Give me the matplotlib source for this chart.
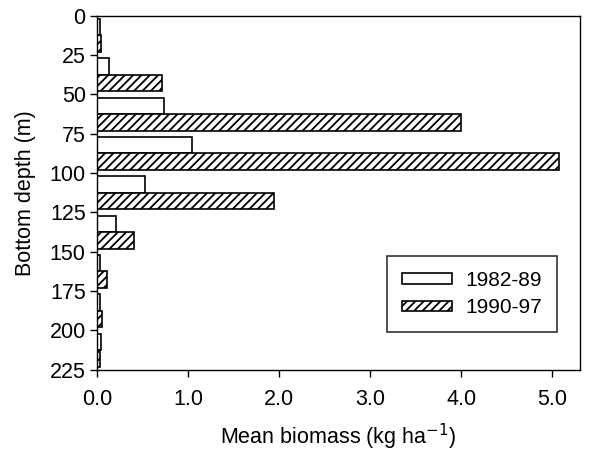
import matplotlib

matplotlib.use("Agg")

import matplotlib.pyplot as plt
import numpy as np

plt.rcParams["font.family"] = ["Liberation Sans", "DejaVu Sans"]
plt.rcParams["hatch.linewidth"] = 1.3

# depth bins (m), upper edge of each 25 m interval
DEPTH_BINS = [0, 25, 50, 75, 100, 125, 150, 175, 200]
BIOMASS_1982_89 = [0.03, 0.13, 0.735, 1.04, 0.53, 0.21, 0.03, 0.04, 0.05]
BIOMASS_1990_97 = [0.045, 0.72, 4.0, 5.07, 1.94, 0.41, 0.11, 0.06, 0.04]
SERIES_LABELS = ["1982-89", "1990-97"]
X_TICKS = [0.0, 1.0, 2.0, 3.0, 4.0, 5.0]
Y_TICKS = [0, 25, 50, 75, 100, 125, 150, 175, 200, 225]

fig = plt.figure(figsize=(5.94, 4.51), dpi=100)
ax = fig.add_axes([0.163, 0.180, 0.813, 0.785])

bin_w = 25
bar_h = 10.5
centers = np.array(DEPTH_BINS) + bin_w / 2

ax.barh(centers - bar_h / 2, BIOMASS_1982_89, height=bar_h, color="white",
        edgecolor="black", linewidth=1.2, label=SERIES_LABELS[0])
ax.barh(centers + bar_h / 2, BIOMASS_1990_97, height=bar_h, color="white",
        edgecolor="black", linewidth=1.2, hatch="////", label=SERIES_LABELS[1])

ax.set_xlim(0, 5.3)
ax.set_ylim(225, 0)
ax.set_xticks(X_TICKS)
ax.set_xticklabels([f"{v:.1f}" for v in X_TICKS])
ax.set_yticks(Y_TICKS)
ax.tick_params(direction="out", length=5, width=1, labelsize=15.5)
ax.tick_params(axis="x", pad=9)
ax.tick_params(axis="y", pad=3)
for s in ax.spines.values():
    s.set_linewidth(1.0)

ax.set_xlabel("Mean biomass (kg ha$^{-1}$)", fontsize=15.5, labelpad=8)
ax.set_ylabel("Bottom depth (m)", fontsize=15.5, labelpad=10)

leg = ax.legend(loc="lower right", bbox_to_anchor=(0.952, 0.107), fontsize=15,
                frameon=True, fancybox=False, edgecolor="black",
                handlelength=2.4, handleheight=0.4, borderpad=0.7,
                labelspacing=0.4, handletextpad=0.65, borderaxespad=0)
leg.get_frame().set_linewidth(1.2)

fig.savefig("out.png", dpi=100)
